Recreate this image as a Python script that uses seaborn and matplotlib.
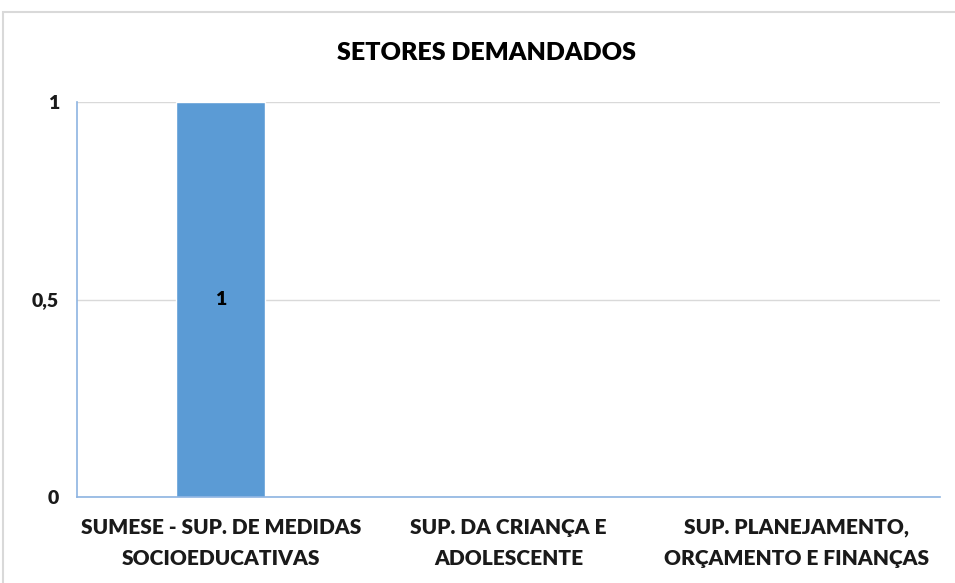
import matplotlib
matplotlib.use("Agg")
import matplotlib.pyplot as plt
import seaborn as sns
import pandas as pd
from matplotlib.patches import Rectangle
from matplotlib.ticker import FuncFormatter

categories = ["SUMESE - SUP. DE MEDIDAS\nSOCIOEDUCATIVAS",
              "SUP. DA CRIANÇA E\nADOLESCENTE",
              "SUP. PLANEJAMENTO,\nORÇAMENTO E FINANÇAS"]
values = [1, 0, 0]
yticks = [0, 0.5, 1]
title = "SETORES DEMANDADOS"

sns.set_theme(style="white")
plt.rcParams['font.family'] = ['Lato', 'DejaVu Sans']

df = pd.DataFrame({"setor": categories, "valor": values})

fig = plt.figure(figsize=(9.55, 5.83), dpi=100)
ax = fig.add_axes([77/955, 1-497/583, (940-77)/955, (497-102)/583])

sns.barplot(data=df, x="setor", y="valor", color="#5b9bd5", width=0.31,
            edgecolor="white", linewidth=1, saturation=1, ax=ax, zorder=3)

labels = [str(v) if v else "" for v in values]
ax.bar_label(ax.containers[0], labels=labels, label_type="center",
             fontsize=14, fontweight="heavy", color="black")

ax.set_ylim(0, 1)
ax.set_yticks(yticks)
ax.yaxis.set_major_formatter(FuncFormatter(lambda v, p: ("%g" % v).replace(".", ",")))
ax.set_xlim(-0.5, 2.5)
ax.set_xlabel("")
ax.set_ylabel("")
ax.grid(axis="y", color="#d9d9d9", linewidth=1, zorder=0)
ax.set_axisbelow(True)
for s in ["top", "right"]:
    ax.spines[s].set_visible(False)
for s in ["left", "bottom"]:
    ax.spines[s].set_color("#8db4e2")
    ax.spines[s].set_linewidth(1.2)
    ax.spines[s].set_zorder(4)
ax.tick_params(axis="y", length=0, pad=13, labelsize=14)
ax.tick_params(axis="x", length=0, pad=15, labelsize=15)
for t in ax.get_yticklabels() + ax.get_xticklabels():
    t.set_fontweight("heavy")
    t.set_color("#1a1a1a")
for t in ax.get_xticklabels():
    t.set_linespacing(1.75)

fig.text(486/955, 1-53/583, title, ha="center", va="center",
         fontsize=18, fontweight="heavy", color="black")

fig.patches.append(Rectangle((3/955, -0.01), 1.0, 1-12/583 + 0.01,
                             transform=fig.transFigure, fill=False,
                             edgecolor="#d9d9d9", linewidth=1.5))

fig.savefig("out.png", dpi=100)
